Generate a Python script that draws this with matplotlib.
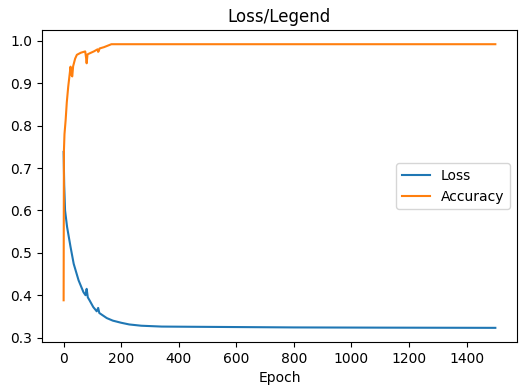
import matplotlib
matplotlib.use("Agg")
import matplotlib.pyplot as plt

# values (epoch -> value)
loss_epochs = [0, 2, 5, 12, 24, 35, 52, 69, 76, 80, 84, 90, 103, 115, 120, 124,
               137, 150, 171, 200, 228, 270, 341, 450, 568, 800, 1100, 1500]
loss_values = [0.738, 0.66, 0.60, 0.561, 0.514, 0.474, 0.435, 0.407, 0.40, 0.415,
               0.395, 0.388, 0.372, 0.362, 0.370, 0.358, 0.352, 0.346, 0.340,
               0.335, 0.331, 0.328, 0.326, 0.3255, 0.325, 0.324, 0.3235, 0.323]

acc_epochs = [0, 1, 3, 7, 11, 16, 24, 27, 30, 33, 40, 46, 60, 75, 78, 80, 83, 92,
              105, 118, 120, 122, 125, 140, 166, 300, 800, 1500]
acc_values = [0.388, 0.74, 0.78, 0.813, 0.855, 0.892, 0.939, 0.92, 0.916, 0.94,
              0.958, 0.967, 0.972, 0.975, 0.96, 0.947, 0.968, 0.971, 0.975, 0.980,
              0.974, 0.976, 0.982, 0.985, 0.992, 0.992, 0.992, 0.992]

fig = plt.figure(figsize=(5.19, 3.9), dpi=100)
ax = fig.add_axes([0.081, 0.123, 0.915, 0.8])
ax.plot(loss_epochs, loss_values, label="Loss")
ax.plot(acc_epochs, acc_values, label="Accuracy")
ax.set_title("Loss/Legend")
ax.set_xlabel("Epoch")
ax.set_xticks(range(0, 1401, 200))
ax.legend(loc="center right")
fig.savefig("out.png")
